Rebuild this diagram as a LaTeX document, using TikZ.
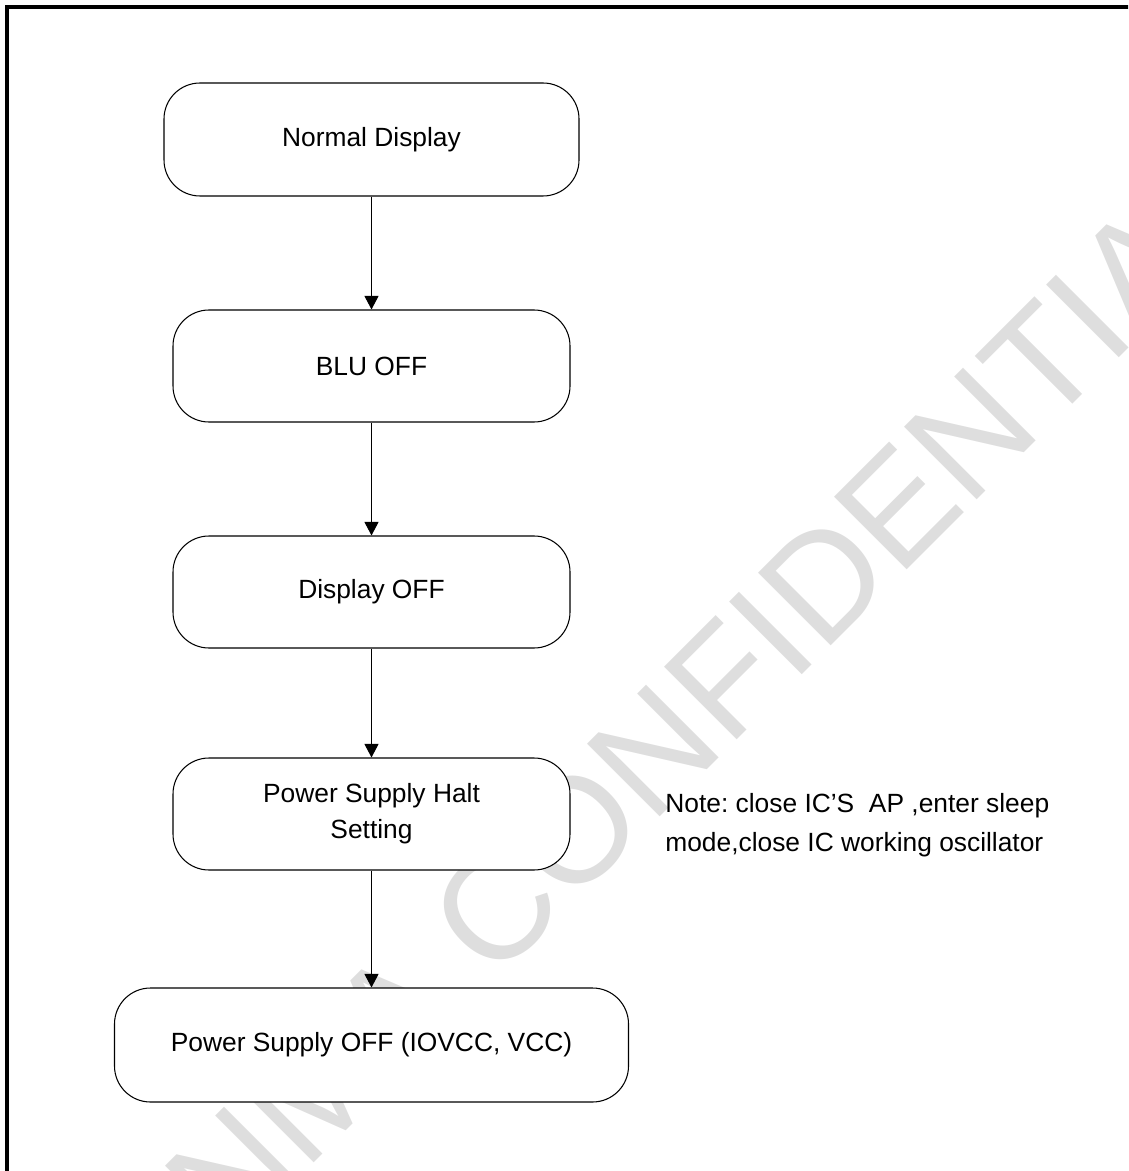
\documentclass[tikz,border=0pt]{standalone}
\usepackage{fontspec}
\setmainfont{Liberation Sans}
\usepackage{tikz}
\usetikzlibrary{arrows.meta}
\definecolor{stampgray}{RGB}{222,222,222}
\frenchspacing

\begin{document}
\begin{tikzpicture}[
    stepbox/.style={shape=rectangle, rounded corners=0.72cm, draw=black, line width=0.6pt, fill=white,
        minimum width=7.94cm, minimum height=2.24cm, inner sep=0pt, align=center,
        font=\fontsize{15}{20.5}\selectfont},
    flow/.style={-{Triangle[width=0.28cm,length=0.27cm]}, line width=0.6pt}
]
    \path[use as bounding box, clip] (0,0) rectangle (22.56,-23.42);
    % watermark behind everything
    \node[anchor=base west, inner sep=0pt, rotate=45, text=stampgray, font=\fontsize{85}{85}\selectfont] (stamp) at (1.30,-28.24) {TIANMA CONFIDENTIAL};
    \draw[line width=2.2pt] (0.14,-0.14) rectangle (24,-25);
    \node[stepbox, minimum width=8.3cm, minimum height=2.26cm] (A) at (7.43,-2.79) {Normal Display};
    \node[stepbox] (B) at (7.43,-7.32) {BLU OFF};
    \node[stepbox] (C) at (7.43,-11.84) {Display OFF};
    \node[stepbox] (D) at (7.43,-16.28) {Power Supply Halt\\Setting};
    \node[stepbox, minimum width=10.28cm, minimum height=2.28cm] (E) at (7.43,-20.9) {Power Supply OFF (IOVCC, VCC)};
    \node[anchor=base west, inner sep=0pt, align=left, font=\fontsize{15}{22}\selectfont] (note) at (13.3,-17.02) {Note: close IC’S\ \ AP ,enter sleep\\mode,close IC working oscillator};
    \draw [flow](A) -- (B);
    \draw [flow](B) -- (C);
    \draw [flow](C) -- (D);
    \draw [flow](D) -- (E);
\end{tikzpicture}
\end{document}
